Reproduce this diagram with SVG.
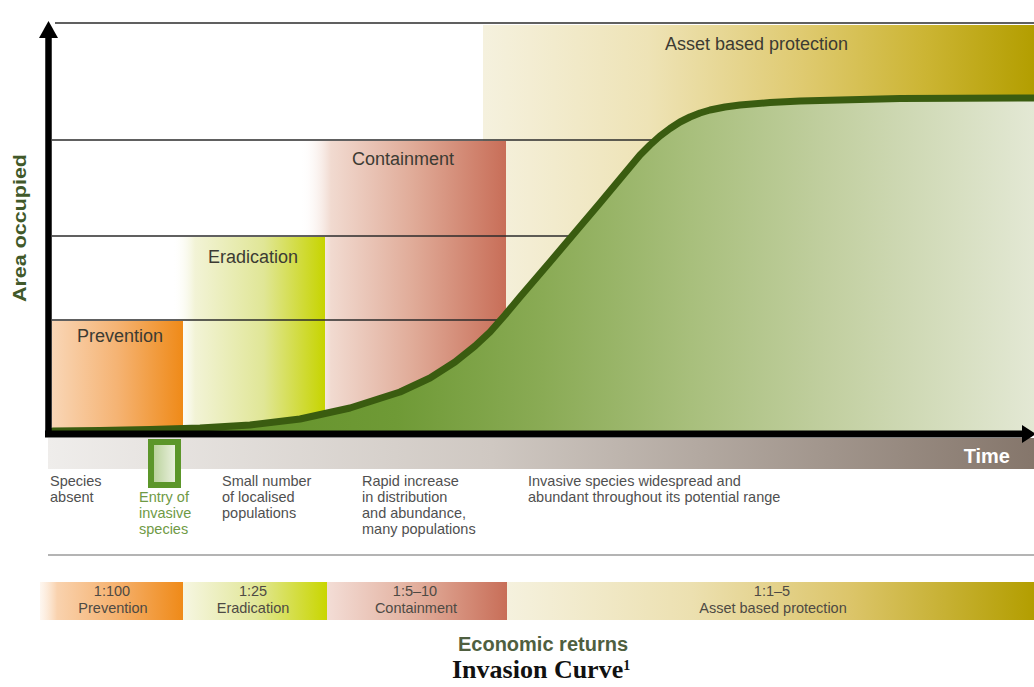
<svg xmlns="http://www.w3.org/2000/svg" width="1034" height="687" viewBox="0 0 1034 687">
<defs>
<linearGradient id="gPrev" x1="0" y1="0" x2="1" y2="0"><stop offset="0" stop-color="#f9d6b6"/><stop offset="0.5" stop-color="#f5b373"/><stop offset="1" stop-color="#ef8a18"/></linearGradient>
<linearGradient id="gErad" x1="0" y1="0" x2="1" y2="0"><stop offset="0" stop-color="#ffffff" stop-opacity="0"/><stop offset="0.15" stop-color="#f2f3d6"/><stop offset="0.6" stop-color="#e0e696"/><stop offset="1" stop-color="#c7d400"/></linearGradient>
<linearGradient id="gCont" x1="0" y1="0" x2="1" y2="0"><stop offset="0" stop-color="#ffffff" stop-opacity="0"/><stop offset="0.15" stop-color="#f1dad0"/><stop offset="0.55" stop-color="#e0ab98"/><stop offset="1" stop-color="#c86e58"/></linearGradient>
<linearGradient id="gAsset" x1="0" y1="0" x2="1" y2="0"><stop offset="0" stop-color="#f5f1de"/><stop offset="0.3" stop-color="#eee3b6"/><stop offset="0.58" stop-color="#dfca70"/><stop offset="0.8" stop-color="#ccb534"/><stop offset="1" stop-color="#b39e00"/></linearGradient>
<linearGradient id="gPrevB" x1="0" y1="0" x2="1" y2="0"><stop offset="0" stop-color="#fbe3cc" stop-opacity="0.3"/><stop offset="0.12" stop-color="#f9d2ae"/><stop offset="0.55" stop-color="#f5b06c"/><stop offset="1" stop-color="#ef8a18"/></linearGradient>
<linearGradient id="gEradB" x1="0" y1="0" x2="1" y2="0"><stop offset="0" stop-color="#f6f6e2"/><stop offset="0.5" stop-color="#e2e79a"/><stop offset="1" stop-color="#c9d600"/></linearGradient>
<linearGradient id="gContB" x1="0" y1="0" x2="1" y2="0"><stop offset="0" stop-color="#f3ddd6"/><stop offset="0.5" stop-color="#e2ae9c"/><stop offset="1" stop-color="#c86e58"/></linearGradient>
<linearGradient id="gAssetB" x1="0" y1="0" x2="1" y2="0"><stop offset="0" stop-color="#f5f1de"/><stop offset="0.35" stop-color="#ece0b0"/><stop offset="0.65" stop-color="#dcc56a"/><stop offset="1" stop-color="#b39e00"/></linearGradient>
<linearGradient id="gGreen" gradientUnits="userSpaceOnUse" x1="53" y1="0" x2="1034" y2="0"><stop offset="0" stop-color="#588a1e"/><stop offset="0.35" stop-color="#6f9a36"/><stop offset="0.5" stop-color="#8aab55"/><stop offset="0.65" stop-color="#a8bf7c"/><stop offset="0.8" stop-color="#c3d0a2"/><stop offset="1" stop-color="#e3e8d4"/></linearGradient>
<linearGradient id="gTime" x1="0" y1="0" x2="1" y2="0"><stop offset="0" stop-color="#efedeb"/><stop offset="0.45" stop-color="#cfc8c2"/><stop offset="1" stop-color="#85766b"/></linearGradient>
<linearGradient id="gEntry" x1="0" y1="0" x2="1" y2="0"><stop offset="0" stop-color="#b4cf94"/><stop offset="1" stop-color="#f0f4e6"/></linearGradient>
<style>
.lbl{font-family:"Liberation Sans",Arial,sans-serif;fill:#3c3b33;font-size:18px}
.desc{font-family:"Liberation Sans",Arial,sans-serif;fill:#505050;font-size:14.5px}
.green{fill:#6f9a45}
.bar{font-family:"Liberation Sans",Arial,sans-serif;fill:#4e4a44;font-size:14.5px;text-anchor:middle}
.guide{stroke:#2b2b2b;stroke-width:1.5;fill:none}
</style>
</defs>
<rect width="1034" height="687" fill="#ffffff"/>

<g id="asset-zone"><rect x="483" y="25" width="551" height="410" fill="url(#gAsset)"/><text class="lbl" x="665" y="50">Asset based protection</text></g>
<g id="containment-zone"><rect x="300" y="141" width="206" height="294" fill="url(#gCont)"/><text class="lbl" x="352" y="165">Containment</text></g>
<g id="eradication-zone"><rect x="172" y="237" width="153" height="198" fill="url(#gErad)"/><text class="lbl" x="208" y="263">Eradication</text></g>
<g id="prevention-zone"><rect x="52" y="321" width="131" height="114" fill="url(#gPrev)"/><text class="lbl" x="77" y="342">Prevention</text></g>

<g id="connectors">
<line class="guide" x1="55" y1="23" x2="1034" y2="23"/>
<line class="guide" x1="52" y1="140" x2="652" y2="140"/>
<line class="guide" x1="52" y1="236" x2="572" y2="236"/>
<line class="guide" x1="52" y1="320" x2="502" y2="320"/>
</g>

<g id="invasion-curve">
<path d="M53,434 L53,431 L100,430.5 L150,429.5 L200,428 L250,425 L300,419 L350,408 L400,392 L430,378 L455,362 L475,346 L490,332 L505,315 L520,297 L550,262 L572,236 L600,203 L620,179 L640,155 L650,145 L660,136 L670,128.5 L680,122 L690,117 L700,113 L710,110 L725,107 L740,105 L770,102.5 L800,101 L900,98.5 L1034,98 L1034,434 Z" fill="url(#gGreen)"/>
<path d="M53,431 L100,430.5 L150,429.5 L200,428 L250,425 L300,419 L350,408 L400,392 L430,378 L455,362 L475,346 L490,332 L505,315 L520,297 L550,262 L572,236 L600,203 L620,179 L640,155 L650,145 L660,136 L670,128.5 L680,122 L690,117 L700,113 L710,110 L725,107 L740,105 L770,102.5 L800,101 L900,98.5 L1034,98" fill="none" stroke="#3a5c10" stroke-width="7" stroke-linejoin="round" stroke-linecap="round"/>
</g>

<g id="time-bar"><rect x="48" y="438" width="986" height="31" fill="url(#gTime)"/><text x="1010" y="463" text-anchor="end" font-family="Liberation Sans,Arial,sans-serif" font-weight="bold" font-size="20" fill="#ffffff">Time</text></g>

<g id="axes">
<line x1="48.5" y1="34" x2="48.5" y2="437" stroke="#000" stroke-width="6.5"/>
<polygon points="48.5,21 39,38 58,38" fill="#000"/>
<line x1="45" y1="434" x2="1024" y2="434" stroke="#000" stroke-width="7"/>
<polygon points="1036,434 1022,425 1022,443" fill="#000"/>
<text transform="translate(26,228) rotate(-90)" text-anchor="middle" font-family="Liberation Sans,Arial,sans-serif" font-weight="bold" font-size="18" fill="#41592a" textLength="148" lengthAdjust="spacingAndGlyphs">Area occupied</text>
</g>

<g id="entry-marker"><rect x="151" y="442" width="27" height="43" fill="url(#gEntry)" stroke="#5c962a" stroke-width="6"/></g>

<g id="stage-descriptions">
<text class="desc" x="50" y="486">Species</text>
<text class="desc" x="50" y="502">absent</text>
<text class="desc green" x="139" y="502">Entry of</text>
<text class="desc green" x="139" y="518">invasive</text>
<text class="desc green" x="139" y="534">species</text>
<text class="desc" x="222" y="486">Small number</text>
<text class="desc" x="222" y="502">of localised</text>
<text class="desc" x="222" y="518">populations</text>
<text class="desc" x="362" y="486">Rapid increase</text>
<text class="desc" x="362" y="502">in distribution</text>
<text class="desc" x="362" y="518">and abundance,</text>
<text class="desc" x="362" y="534">many populations</text>
<text class="desc" x="528" y="486">Invasive species widespread and</text>
<text class="desc" x="528" y="502">abundant throughout its potential range</text>
</g>

<line x1="48" y1="555" x2="1034" y2="555" stroke="#6a6a6a" stroke-width="1.2"/>

<g id="returns-prevention"><rect x="40" y="582" width="143" height="38" fill="url(#gPrevB)"/><text class="bar" x="112" y="596">1:100</text><text class="bar" x="113" y="613">Prevention</text></g>
<g id="returns-eradication"><rect x="183" y="582" width="144" height="38" fill="url(#gEradB)"/><text class="bar" x="253" y="596">1:25</text><text class="bar" x="253" y="613">Eradication</text></g>
<g id="returns-containment"><rect x="327" y="582" width="180" height="38" fill="url(#gContB)"/><text class="bar" x="415" y="596">1:5–10</text><text class="bar" x="416" y="613">Containment</text></g>
<g id="returns-asset"><rect x="507" y="582" width="527" height="38" fill="url(#gAssetB)"/><text class="bar" x="772" y="596">1:1–5</text><text class="bar" x="773" y="613">Asset based protection</text></g>

<text x="543" y="651" text-anchor="middle" font-family="Liberation Sans,Arial,sans-serif" font-weight="bold" font-size="20" fill="#4f5f40">Economic returns</text>
<text x="452" y="678" font-family="Liberation Serif,Times New Roman,serif" font-weight="bold" font-size="26" fill="#111">Invasion Curve<tspan font-size="14" dy="-8">1</tspan></text>
</svg>
